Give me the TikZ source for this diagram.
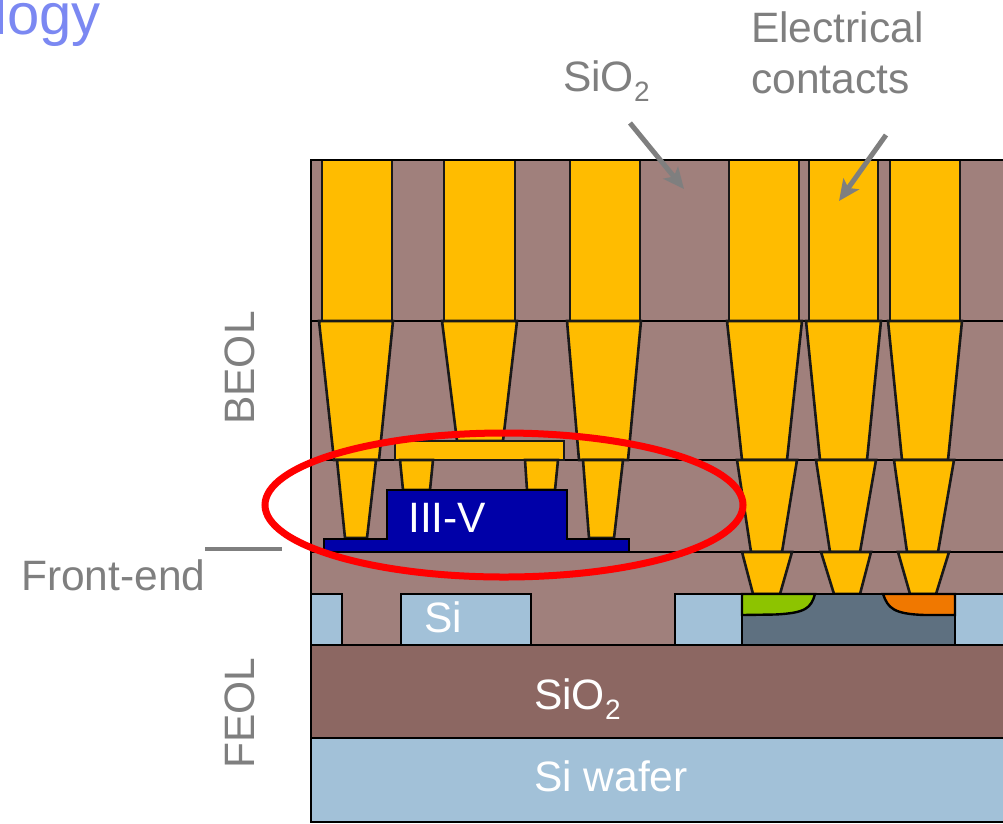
\documentclass[tikz,border=0pt]{standalone}
\usepackage{fontspec}
\setmainfont{Liberation Sans}
\usetikzlibrary{arrows.meta}
\definecolor{oxide}{HTML}{A0807C}
\definecolor{oxdark}{HTML}{8C6762}
\definecolor{gold}{HTML}{FFBC00}
\definecolor{siblue}{HTML}{A2C1D8}
\definecolor{well}{HTML}{5E7080}
\definecolor{iiiv}{HTML}{0000A8}
\definecolor{grn}{HTML}{8DC400}
\definecolor{org}{HTML}{F07800}
\definecolor{gtext}{HTML}{7F7F7F}
\definecolor{ttl}{HTML}{7B88F2}
\tikzset{
  x=1pt,y=-1pt,
  layer/.style={draw=black,line width=2.4pt},
  via/.style={draw=black!90,line width=2.6pt,fill=gold,line join=miter},
  lab/.style={font=\fontsize{42.5}{46}\selectfont,text=gtext,inner sep=0pt},
  wlab/.style={font=\fontsize{42.5}{46}\selectfont,text=white,inner sep=0pt},
  callout/.style={draw=gtext,line width=5pt,-{Stealth[length=21pt,width=19pt,inset=5pt]}},
}
\newcommand{\tvia}[6]{\draw[via] (#1,#5)--(#2,#5)--(#4,#6)--(#3,#6)--cycle;}
\newcommand{\subtwo}{\raisebox{-10pt}{\fontsize{28}{30}\selectfont 2}}
\begin{document}
\begin{tikzpicture}
\useasboundingbox (0,0) rectangle (1003,823);
\clip (0,0) rectangle (1003,823);
% oxide
\fill[oxide] (311,160) rectangle (1003,645);
% horizontal layers
\draw[layer] (311,321)--(1003,321);
\draw[layer] (311,460)--(1003,460);
\draw[layer] (311,552)--(1003,552);
% top vias
\foreach \a/\b in {322/392,444/515,570/640,729/799,809/878,890/960}
  \draw[via] (\a,160) rectangle (\b,321);
% second layer
\tvia{319}{393}{334}{379}{321}{460}
\tvia{442}{517}{457}{503}{321}{441}
\tvia{567}{641}{579}{628}{321}{460}
\tvia{727}{802}{742}{787}{321}{460}
\tvia{806}{881}{820}{867}{321}{460}
\tvia{888}{962}{902}{948}{321}{460}
% bar
\draw[via] (395,441) rectangle (564,460);
% third layer
\tvia{337}{376}{345}{367}{460}{538}
\tvia{400}{433}{403}{430}{460}{490}
\tvia{525}{558}{527}{555}{460}{490}
\tvia{583}{623}{589}{614}{460}{538}
\tvia{737}{797}{751}{782}{460}{552}
\tvia{816}{876}{830}{860}{460}{552}
\tvia{894}{954}{907}{938}{460}{552}
% fourth layer
\tvia{742}{792}{753}{780}{552}{594}
\tvia{821}{871}{834}{860}{552}{594}
\tvia{898}{949}{910}{936}{552}{594}
% III-V
\draw[layer,fill=iiiv] (324,552)--(324,539)--(387,539)--(387,490)--(567,490)--(567,539)--(629,539)--(629,552)--cycle;
% STI silicon
\draw[layer,fill=siblue] (311,594)--(342,594)--(342,645)--(311,645);
\draw[layer,fill=siblue] (401,594) rectangle (531,645);
\draw[layer,fill=siblue] (675,594) rectangle (742,645);
\draw[layer,fill=siblue] (1004,594)--(955,594)--(955,645)--(1004,645);
\draw[layer,fill=well] (742,594) rectangle (955,645);
\draw[layer,fill=grn] (742,594)--(815,594) .. controls (811,608) and (806,613) .. (775,614.5)--(742,615)--cycle;
\draw[layer,fill=org] (883,594)--(955,594)--(955,615)--(925,615) .. controls (893,614) and (888,608) .. (883,594)--cycle;
% substrate
\draw[layer,fill=oxdark] (311,645) rectangle (1004,738);
\draw[layer,fill=siblue] (311,738) rectangle (1004,822);
% frame
\draw[black,line width=2.8pt] (311,822)--(311,160)--(1004,160);
% red ellipse
\draw[red,line width=7pt] (504,505) ellipse [x radius=239,y radius=72];
% texts
\node[anchor=base west,inner sep=0pt,text=ttl,font=\fontsize{58}{62}\selectfont] (title) at (-6,34) {logy};
\node[lab,anchor=base west] (sio) at (563,91) {SiO\subtwo};
\node[lab,anchor=base west] (ec1) at (751,42) {Electrical};
\node[lab,anchor=base west] (ec2) at (751,93) {contacts};
\node[lab,rotate=90,anchor=base] (beol) at (254,368) {BEOL};
\node[lab,rotate=90,anchor=base] (feol) at (254,713) {FEOL};
\node[lab,anchor=base west] (fe) at (21,590) {Front-end};
\node[wlab,anchor=base west] (tv) at (408,532) {III-V};
\node[wlab,anchor=base west] (si) at (424,632) {Si};
\node[wlab,anchor=base west] (sio2) at (534,709) {SiO\subtwo};
\node[wlab,anchor=base west] (waf) at (534,791) {Si wafer};
% callouts
\coordinate (a1s) at (630,123); \coordinate (a1e) at (684,189);
\coordinate (a2s) at (886,135); \coordinate (a2e) at (839,201);
\draw[callout] (a1s)--(a1e);
\draw[callout] (a2s)--(a2e);
\coordinate (fa) at (205,548.5); \coordinate (fb) at (282,548.5);
\draw[gtext,line width=4pt] (fa)--(fb);
\end{tikzpicture}
\end{document}
